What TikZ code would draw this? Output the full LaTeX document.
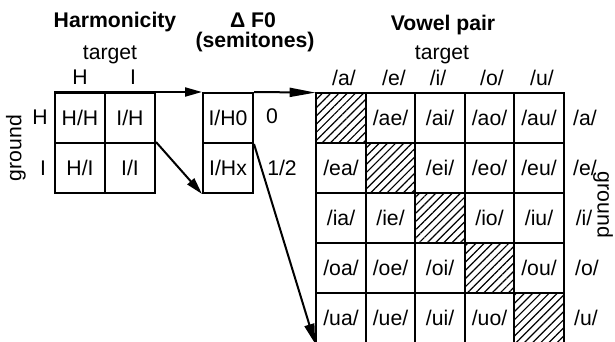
\documentclass[tikz,border=0pt]{standalone}
\usepackage{fontspec}
\setmainfont{Liberation Sans}
\usetikzlibrary{arrows.meta,patterns.meta}

\tikzset{
  cell/.style={draw, rectangle, line width=1pt, minimum size=25pt, inner sep=0pt},
  vcell/.style={cell, minimum size=24.8pt},
  same/.style={vcell, pattern={Lines[angle=45,distance=2.9pt,line width=0.6pt]}},
  title/.style={font=\bfseries, inner sep=0pt},
  label/.style={inner sep=0pt},
  link/.style={line width=1pt, -{Triangle[length=8.5pt,width=4.5pt]}}
}

\begin{document}
\fontsize{10.6}{12.5}\selectfont
\begin{tikzpicture}[x=0.5pt, y=-0.5pt]
        \useasboundingbox (0,0) rectangle (615,342);

        % Harmonicity grid
        \node[cell] (hh) at (80,118) {H/H};
        \node[cell] (ih) at (130,118) {I/H};
        \node[cell] (hi) at (80,168) {H/I};
        \node[cell] (ii) at (130,168) {I/I};

        \node[title] (harm) at (115,22) {Harmonicity};
        \node[label] (htarget) at (110,55) {target};
        \node[label] (hcolh) at (80,77) {H};
        \node[label] (hcoli) at (133,77) {I};
        \node[label] (hrowh) at (40,117) {H};
        \node[label] (hrowi) at (43,168) {I};
        \node[label, rotate=90] (hground) at (16,148) {ground};

        % Delta F0 cells
        \node[cell] (h0) at (228,118) {I/H0};
        \node[cell] (hx) at (228,168) {I/Hx};
        \node[label] (zero) at (272,116) {0};
        \node[label] (half) at (282,168) {1/2};

        \node[title] (df) at (253,20) {Δ F0};
        \node[title] (semi) at (255,42) {(semitones)};

        % Vowel pair grid
        \node[same]  (aa) at (341,118) {};
        \node[vcell] (ae) at (390.5,118) {/ae/};
        \node[vcell] (ai) at (440,118) {/ai/};
        \node[vcell] (ao) at (489.5,118) {/ao/};
        \node[vcell] (au) at (539,118) {/au/};

        \node[vcell] (ea) at (341,168) {/ea/};
        \node[same]  (ee) at (390.5,168) {};
        \node[vcell] (ei) at (440,168) {/ei/};
        \node[vcell] (eo) at (489.5,168) {/eo/};
        \node[vcell] (eu) at (539,168) {/eu/};

        \node[vcell] (ia) at (341,218) {/ia/};
        \node[vcell] (ie) at (390.5,218) {/ie/};
        \node[same]  (ii2) at (440,218) {};
        \node[vcell] (io) at (489.5,218) {/io/};
        \node[vcell] (iu) at (539,218) {/iu/};

        \node[vcell] (oa) at (341,268) {/oa/};
        \node[vcell] (oe) at (390.5,268) {/oe/};
        \node[vcell] (oi) at (440,268) {/oi/};
        \node[same]  (oo) at (489.5,268) {};
        \node[vcell] (ou) at (539,268) {/ou/};

        \node[vcell] (ua) at (341,318) {/ua/};
        \node[vcell] (ue) at (390.5,318) {/ue/};
        \node[vcell] (ui) at (440,318) {/ui/};
        \node[vcell] (uo) at (489.5,318) {/uo/};
        \node[same]  (uu) at (539,318) {};

        \node[title] (vowel) at (443,25) {Vowel pair};
        \node[label] (vtarget) at (442,55) {target};
        \node[label] (vcola) at (344,78) {/a/};
        \node[label] (vcole) at (394,78) {/e/};
        \node[label] (vcoli) at (438,78) {/i/};
        \node[label] (vcolo) at (492,78) {/o/};
        \node[label] (vcolu) at (542,78) {/u/};
        \node[label] (vrowa) at (585,118) {/a/};
        \node[label] (vrowe) at (585,168) {/e/};
        \node[label] (vrowi) at (584,218) {/i/};
        \node[label] (vrowo) at (587,268) {/o/};
        \node[label] (vrowu) at (586,318) {/u/};
        \node[label, rotate=-90] (vground) at (603,205) {ground};

        % Define arrows
        \draw[link] (hh.north west) -- (h0.north west);
        \draw[line width=1pt, -{Triangle[length=13pt,width=4.5pt]}] (h0.north east) -- (aa.north west);
        \draw[link] (ii.north east) -- (hx.south west);
        \draw[line width=1pt, -{Triangle[length=10pt,width=5pt]}] (h0.south east) -- (ua.south west);
    \end{tikzpicture}
\end{document}
